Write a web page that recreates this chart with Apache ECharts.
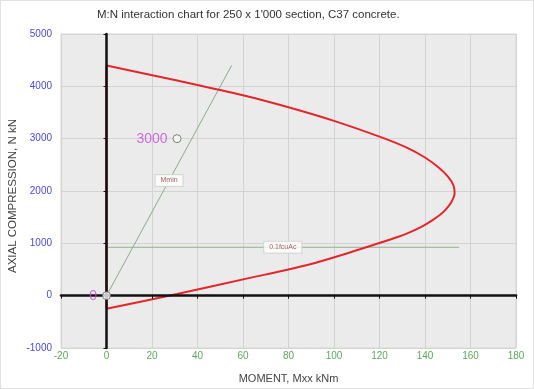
<!DOCTYPE html>
<html>
<head>
<meta charset="utf-8">
<script src="https://cdn.jsdelivr.net/npm/echarts@6/dist/echarts.min.js"></script>
<style>
  html, body { margin: 0; padding: 0; background: #fff; }
  #chart { width: 534px; height: 389px; box-sizing: border-box; border: 1px solid #e2e2e2; }
</style>
</head>
<body>
<div id="chart"></div>
<script>
// Interaction envelope: moment Mxx (kNm) and axial compression N (kN)
const envelopeM = [0, 30, 60, 80, 100, 120, 132, 140, 146, 150, 152.5, 153, 151.5, 149, 146.5, 143, 139, 134, 128, 122, 107, 92, 78, 63, 31, 0];
const envelopeN = [4400, 4120, 3830, 3600, 3340, 3040, 2830, 2640, 2450, 2280, 2110, 1950, 1780, 1640, 1540, 1435, 1330, 1225, 1120, 1035, 825, 630, 480, 340, 30, -250];

// Minimum eccentricity line (e = 12.5 mm) and 0.1 fcu Ac limit
const eMinM = [0, 55];
const eMinN = [0, 4400];
const limitM = [0, 155];
const limitN = [925, 925];
const guideLabels = ['Mmin', '0.1fcuAc'];

// Applied load points
const loadM = [31, 0];
const loadN = [3000, 0];

// Axis ticks
const xTicks = { min: -20, max: 180, step: 20 };
const yTicks = { min: -1000, max: 5000, step: 1000 };

const zip = (a, b) => a.map((v, i) => [v, b[i]]);
const mid = (a) => (a[0] + a[a.length - 1]) / 2;

const chart = echarts.init(document.getElementById('chart'));
const font = 'Arial, "Liberation Sans", sans-serif';

chart.setOption({
  animation: false,
  backgroundColor: '#ffffff',
  textStyle: { fontFamily: font },
  title: {
    text: "M:N interaction chart for 250 x 1'000 section, C37 concrete.",
    left: 91, top: 3,
    textStyle: { fontSize: 11.5, fontWeight: 'normal', color: '#333', fontFamily: font }
  },
  grid: {
    left: 60, right: 17, top: 33, bottom: 40,
    outerBoundsMode: 'none', containLabel: false,
    show: true, backgroundColor: '#ebebeb', borderColor: '#d6d6d6', borderWidth: 1
  },
  xAxis: [
    {
      type: 'value', position: 'bottom',
      min: xTicks.min, max: xTicks.max, interval: xTicks.step,
      name: 'MOMENT, Mxx kNm', nameLocation: 'middle', nameGap: 25, nameMoveOverlap: false,
      nameTextStyle: { fontSize: 11, color: '#444' },
      axisLine: { show: false }, axisTick: { show: false },
      axisLabel: { color: '#5fa65f', fontSize: 10, margin: 3 },
      splitLine: { lineStyle: { color: '#d3d3d3', width: 1 } }
    },
    {
      type: 'value', position: 'bottom', z: 5,
      min: xTicks.min, max: xTicks.max, interval: xTicks.step,
      axisLine: { onZero: true, onZeroAxisIndex: 0, lineStyle: { color: '#111', width: 2.5 } },
      axisTick: { show: true, length: 3, lineStyle: { color: '#111', width: 1 } },
      axisLabel: { show: false }, splitLine: { show: false }
    }
  ],
  yAxis: [
    {
      type: 'value', position: 'left',
      min: yTicks.min, max: yTicks.max, interval: yTicks.step,
      name: 'AXIAL COMPRESSION, N kN', nameLocation: 'middle', nameGap: 42, nameMoveOverlap: false,
      nameTextStyle: { fontSize: 11.5, color: '#444', padding: [0, 10, 0, 0] },
      axisLine: { show: false }, axisTick: { show: false },
      axisLabel: { color: '#4a4ad0', fontSize: 10, margin: 9, formatter: (v) => String(v) },
      splitLine: { lineStyle: { color: '#d3d3d3', width: 1 } }
    },
    {
      type: 'value', position: 'left', z: 5,
      min: yTicks.min, max: yTicks.max, interval: yTicks.step,
      axisLine: { onZero: true, onZeroAxisIndex: 0, lineStyle: { color: '#111', width: 2.5 } },
      axisTick: { show: true, length: 3, lineStyle: { color: '#111', width: 1 } },
      axisLabel: { show: false }, splitLine: { show: false }
    }
  ],
  series: [
    {
      // closing edge of the envelope along M = 0
      type: 'line', symbol: 'none', silent: true, z: 2,
      data: [[envelopeM[envelopeM.length - 1], envelopeN[envelopeN.length - 1]], [envelopeM[0], envelopeN[0]]],
      lineStyle: { color: '#e87070', width: 3 }
    },
    {
      type: 'line', symbol: 'none', z: 3, smooth: 0.3,
      data: zip(envelopeM, envelopeN),
      lineStyle: { color: '#e3262c', width: 2 }
    },
    {
      type: 'line', symbol: 'none', z: 2,
      data: zip(eMinM, eMinN),
      lineStyle: { color: '#8fa98f', width: 1 }
    },
    {
      type: 'line', symbol: 'none', z: 2,
      data: zip(limitM, limitN),
      lineStyle: { color: '#8fb08f', width: 1 }
    },
    {
      // guide line captions at mid-length
      type: 'scatter', symbolSize: 0, z: 4,
      data: [
        { value: [mid(eMinM), mid(eMinN)], name: guideLabels[0] },
        { value: [mid(limitM), mid(limitN)], name: guideLabels[1] }
      ],
      label: {
        show: true, position: 'inside', formatter: (p) => p.name,
        fontSize: 7, color: '#8a3a3a',
        backgroundColor: '#ffffff', borderColor: '#cfcfcf', borderWidth: 1,
        padding: [2, 5]
      }
    },
    {
      type: 'scatter', z: 8, symbol: 'circle', symbolSize: 8,
      data: zip(loadM, loadN),
      itemStyle: { color: '#f6f6f6', borderColor: '#666', borderWidth: 1 },
      label: {
        show: true, position: 'left', distance: 5,
        formatter: (p) => String(p.value[1]),
        fontSize: 14, color: '#c64fd6'
      }
    }
  ]
});
</script>
</body>
</html>
